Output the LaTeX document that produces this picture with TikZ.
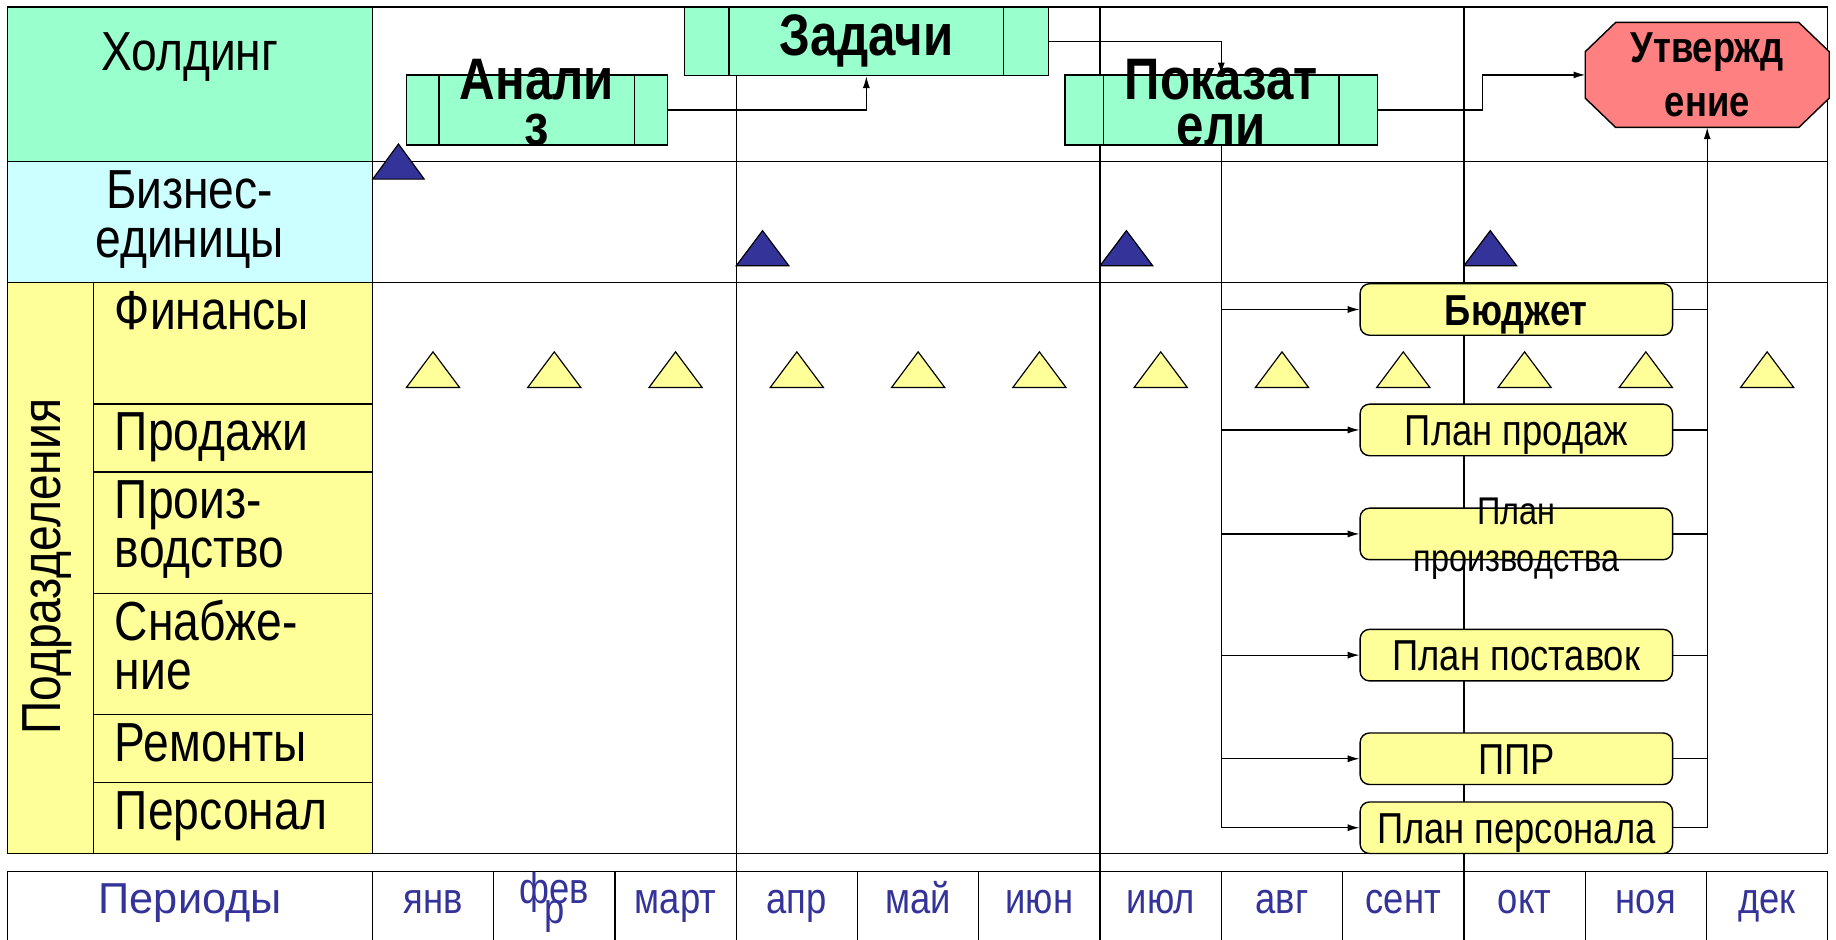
\documentclass[tikz,border=0pt]{standalone}
\usepackage{fontspec}
\setmainfont{Liberation Sans}
\newfontfamily\narrowsf[FakeStretch=0.84]{Liberation Sans}
\usetikzlibrary{arrows.meta,calc}
\definecolor{cHold}{HTML}{99FFCC}
\definecolor{cBU}{HTML}{CCFFFF}
\definecolor{cDept}{HTML}{FFFF99}
\definecolor{cNavy}{HTML}{333399}
\definecolor{cRed}{HTML}{FF8080}
\begin{document}
\begin{tikzpicture}[x=1pt,y=-1pt,
  gridline/.style={line width=1.1pt},
  lbl/.style={inner sep=0pt, font=\narrowsf\fontsize{47pt}{42pt}\selectfont},
  proc/.style={draw, line width=1.2pt, fill=cHold, inner sep=0pt},
  head/.style={inner sep=0pt, align=center, font=\narrowsf\bfseries\fontsize{50pt}{40pt}\selectfont},
  plan/.style={draw, line width=1.2pt, fill=cDept, rounded corners=8pt, minimum width=266.8pt, minimum height=44pt, inner sep=0pt, text height=27pt, text depth=0pt, font=\narrowsf\fontsize{37pt}{40pt}\selectfont},
  conn/.style={line width=1pt},
  arr/.style={conn, -{Latex[length=10pt,width=6pt]}},
  month/.style={inner sep=0pt, anchor=base, text=cNavy, font=\narrowsf\fontsize{37pt}{17pt}\selectfont},
  navytri/.style={fill=cNavy, draw=black, line width=1pt},
  yeltri/.style={fill=cDept, draw=black, line width=1pt}
]
\useasboundingbox (0,0) rectangle (1568,802);
% fills of the left column
\fill[cHold] (6.5,6) rectangle (318,138);
\fill[cBU] (6.5,138) rectangle (318,241);
\fill[cDept] (6.5,241) rectangle (318,729);
% grid
\draw[gridline] (6.5,6) rectangle (1561,729);
\draw[gridline] (6.5,138) -- (1561,138);
\draw[gridline] (6.5,241) -- (1561,241);
\draw[gridline] (318,6) -- (318,729);
\draw[gridline] (80,241) -- (80,729);
\foreach \yy in {345,403,507,610.3,668.5} \draw[gridline] (80,\yy) -- (318,\yy);
\foreach \k in {3,6,9} \draw[gridline] ({318+\k*103.58},6) -- ({318+\k*103.58},744);
% periods row
\draw[gridline] (6.5,744) rectangle (1561,830);
\foreach \k in {0,...,11} \draw[gridline] ({318+\k*103.58},744) -- ({318+\k*103.58},830);
% triangles
\draw[navytri] (318.3,153) -- ++(44,0) -- ++(-22,-30) -- cycle;
\foreach \k in {3,6,9} \draw[navytri] ({318+\k*103.58},227) -- ++(45,0) -- ++(-22.5,-30) -- cycle;
\foreach \k in {0,...,11} \draw[yeltri] ({318+(\k+0.5)*103.58-22.75},331) -- ++(45.5,0) -- ++(-22.75,-30.5) -- cycle;
% left labels
\node[lbl, anchor=base] (hold) at (162,60.3) {Холдинг};
\node[lbl, anchor=base] (bu) at (162,177.9) {\parbox[t]{300pt}{\centering Бизнес-\\единицы}};
\node[lbl, anchor=base, rotate=90] (dept) at (51.8,484) {Подразделения};
\node[lbl, anchor=base west] (fin) at (98,281.5) {Финансы};
\node[lbl, anchor=base west] (sales) at (98,385) {Продажи};
\node[lbl, anchor=base west] (prodn) at (98,443) {\parbox[t]{210pt}{\raggedright Произ-\\водство}};
\node[lbl, anchor=base west] (supl) at (98,546.7) {\parbox[t]{210pt}{\raggedright Снабже-\\ние}};
\node[lbl, anchor=base west] (rep) at (98,650.3) {Ремонты};
\node[lbl, anchor=base west] (staff) at (98,708.4) {Персонал};
% periods
\node[inner sep=0pt, anchor=base, text=cNavy, font=\fontsize{37pt}{40pt}\selectfont] (per) at (162.5,780.5) {Периоды};
\foreach \k/\m in {0/янв,2/март,3/апр,4/май,5/июн,6/июл,7/авг,8/сент,9/окт,10/ноя,11/дек}
  \node[month] (m\k) at ({318+(\k+0.5)*103.58},780.5) {\m};
\node[month] (m1) at ({318+1.5*103.58},771.4) {\parbox[t]{70pt}{\centering\lineskiplimit=-100pt фев\\р}};
% holding process boxes
\node[proc, minimum width=223pt, minimum height=60pt] (ana) at (458.5,94) {};
\node[proc, head, minimum width=310.7pt, minimum height=58.6pt] (zad) at (739.9,35.3) {Задачи};
\node[proc, minimum width=267pt, minimum height=60pt] (pok) at (1043,94) {};
\foreach \n/\b in {ana/28.5, zad/38.6, pok/33.5} {
  \draw[line width=1.2pt] ([xshift=\b pt]\n.north west) -- ([xshift=\b pt]\n.south west);
  \draw[line width=1.2pt] ([xshift=-\b pt]\n.north east) -- ([xshift=-\b pt]\n.south east);
}
% approval octagon
\node[minimum width=208pt, minimum height=89.3pt, inner sep=0pt] (appr) at (1458,64) {};
\draw[line width=1.2pt, fill=cRed] ($(appr.north west)+(26,0)$) -- ($(appr.north east)+(-26,0)$) -- ($(appr.north east)+(0,25)$) -- ($(appr.south east)+(0,-25)$) -- ($(appr.south east)+(-26,0)$) -- ($(appr.south west)+(26,0)$) -- ($(appr.south west)+(0,-25)$) -- ($(appr.north west)+(0,25)$) -- cycle;
% plan boxes
\node[plan, font=\narrowsf\bfseries\fontsize{37pt}{40pt}\selectfont] (bud) at (1295,264.3) {Бюджет};
\node[plan] (sal) at (1295,367.2) {План продаж};
\node[plan] (prod) at (1295,456) {};
\node[plan] (sup) at (1295,559.5) {План поставок};
\node[plan] (ppr) at (1295,648) {ППР};
\node[plan] (pers) at (1295,706.9) {План персонала};
% connectors
\draw[arr] (ana.east) -| (zad.south);
\draw[arr] (zad.east) -| (pok.north);
\coordinate (kink) at (1266,80);
\draw[arr] (pok.east) -| (kink) |- (appr.west);
\foreach \t in {bud,sal,prod,sup,ppr,pers} \draw[arr] (pok.south) |- (\t.west);
\foreach \t in {bud,sal,prod,sup,ppr} \draw[conn] (\t.east) -- (\t.east -| appr.south);
\draw[arr] (pers.east) -| (appr.south);
% labels on top
\node[head] (anaT) at (458.5,87.7) {Анали\\з};
\node[head] (pokT) at (1043,87.7) {Показат\\ели};
\node[head, font=\narrowsf\bfseries\fontsize{37pt}{45.5pt}\selectfont] (apprT) at (appr.center) {Утвержд\\ение};
\node[inner sep=0pt, align=center, font=\narrowsf\fontsize{33pt}{40pt}\selectfont] (prodT) at (1295,460) {План\\производства};
\end{tikzpicture}
\end{document}
